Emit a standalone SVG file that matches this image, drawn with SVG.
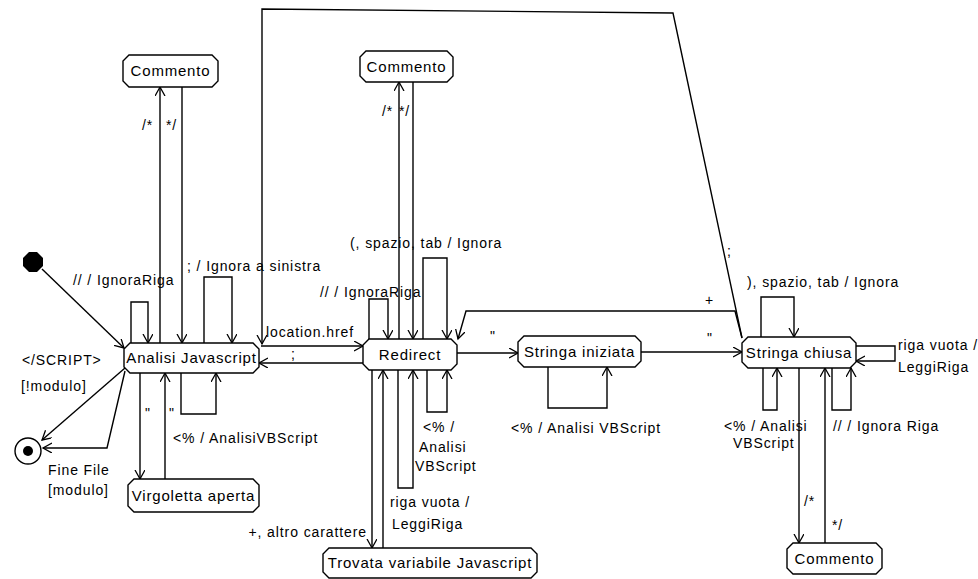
<svg xmlns="http://www.w3.org/2000/svg" width="978" height="579" viewBox="0 0 978 579">
<defs>
<marker id="arr" markerUnits="userSpaceOnUse" markerWidth="12" markerHeight="12" refX="9" refY="5" orient="auto">
<path d="M0,0 L9,5 L0,10" fill="none" stroke="#000" stroke-width="1.3"/>
</marker>
</defs>
<style>
.node{fill:#fff;stroke:#000;stroke-width:1.4}
.nt{font-family:"Liberation Sans",Arial,sans-serif;font-size:15px;letter-spacing:0.8px;text-anchor:middle;fill:#000}
.lb{font-family:"Liberation Sans",Arial,sans-serif;font-size:14px;letter-spacing:0.9px;fill:#000}
.c{fill:none;stroke:#000;stroke-width:1.4;marker-end:url(#arr)}
</style>
<rect width="978" height="579" fill="#fff"/>

<g id="labels">
<text class="lb" x="73" y="285">// / IgnoraRiga</text>
<text class="lb" x="187" y="271">; / Ignora a sinistra</text>
<text class="lb" x="142" y="130">/*</text>
<text class="lb" x="166" y="130">*/</text>
<text class="lb" x="266" y="337">location.href</text>
<text class="lb" x="291" y="359">;</text>
<text class="lb" x="320" y="297">// / IgnoraRiga</text>
<text class="lb" x="350" y="248">(, spazio, tab / Ignora</text>
<text class="lb" x="382" y="116">/*</text>
<text class="lb" x="399" y="116">*/</text>
<text class="lb" x="705" y="305">+</text>
<text class="lb" x="727" y="256">;</text>
<text class="lb" x="490" y="341">"</text>
<text class="lb" x="707" y="343">"</text>
<text class="lb" x="145" y="418">"</text>
<text class="lb" x="169" y="418">"</text>
<text class="lb" x="173" y="443">&lt;% / AnalisiVBScript</text>
<text class="lb" x="511" y="433">&lt;% / Analisi VBScript</text>
<text class="lb" x="423" y="432">&lt;% /</text>
<text class="lb" x="419" y="452">Analisi</text>
<text class="lb" x="415" y="471">VBScript</text>
<text class="lb" x="390" y="507">riga vuota /</text>
<text class="lb" x="392" y="529">LeggiRiga</text>
<text class="lb" x="367" y="537" text-anchor="end">+, altro carattere</text>
<text class="lb" x="22" y="365">&lt;/SCRIPT&gt;</text>
<text class="lb" x="21" y="391">[!modulo]</text>
<text class="lb" x="48" y="475">Fine File</text>
<text class="lb" x="48" y="495">[modulo]</text>
<text class="lb" x="747" y="287">), spazio, tab / Ignora</text>
<text class="lb" x="898" y="350">riga vuota /</text>
<text class="lb" x="898" y="372">LeggiRiga</text>
<text class="lb" x="724" y="431">&lt;% / Analisi</text>
<text class="lb" x="733" y="448">VBScript</text>
<text class="lb" x="833" y="431">// / Ignora Riga</text>
<text class="lb" x="804" y="506">/*</text>
<text class="lb" x="832" y="530">*/</text>
</g>

<g id="connectors">
<path class="c" d="M42,269 L124,348"/>
<path class="c" d="M131,343 V302 H148 V343"/>
<path class="c" d="M160,343 V87"/>
<path class="c" d="M182,87 V343"/>
<path class="c" d="M204,343 V277 H232 V343"/>
<path class="c" d="M742,338 L673,13 L262,9 V344"/>
<path class="c" d="M261,346 H363"/>
<path class="c" d="M363,363 H259"/>
<path class="c" d="M369,339 V299 H388 V339"/>
<path class="c" d="M399,339 V82"/>
<path class="c" d="M413,82 V339"/>
<path class="c" d="M423,339 V258 H447 V339"/>
<path class="c" d="M742,338 L735,311 H466 L458,339"/>
<path class="c" d="M457,353 H518"/>
<path class="c" d="M641,352 H742"/>
<path class="c" d="M548,367 V408 H607 V367"/>
<path class="c" d="M372,370 V548"/>
<path class="c" d="M383,548 V370"/>
<path class="c" d="M398,370 V488 H413 V370"/>
<path class="c" d="M427,370 V412 H447 V370"/>
<path class="c" d="M140,373 V479"/>
<path class="c" d="M165,479 V373"/>
<path class="c" d="M181,373 V414 H216 V373"/>
<path class="c" d="M125,368 L42,440"/>
<path class="c" d="M125,371 L107,448 H43"/>
<path class="c" d="M761,337 V297 H794 V337"/>
<path class="c" d="M856,346 H895 V361 H856"/>
<path class="c" d="M763,368 V410 H777 V368"/>
<path class="c" d="M799,368 V543"/>
<path class="c" d="M825,543 V368"/>
<path class="c" d="M832,368 V410 H851 V368"/>
</g>

<g id="start">
<polygon points="29,252 37,252 43,258 43,266 37,272 29,272 23,266 23,258" fill="#000"/>
</g>
<g id="end">
<circle cx="28" cy="451" r="13" fill="#fff" stroke="#000" stroke-width="1.4"/>
<circle cx="28" cy="451" r="5" fill="#000"/>
</g>

<g id="analisi">
<path class="node" d="M130,343 H253 L259,349 V367 L253,373 H130 L124,367 V349 Z"/>
<text class="nt" x="191.5" y="363">Analisi Javascript</text>
</g>
<g id="commento1">
<path class="node" d="M129,55 H212 L218,61 V81 L212,87 H129 L123,81 V61 Z"/>
<text class="nt" x="170.5" y="76">Commento</text>
</g>
<g id="commento2">
<path class="node" d="M366,51 H447 L453,57 V76 L447,82 H366 L360,76 V57 Z"/>
<text class="nt" x="406.5" y="72">Commento</text>
</g>
<g id="redirect">
<path class="node" d="M369,339 H451 L457,345 V364 L451,370 H369 L363,364 V345 Z"/>
<text class="nt" x="410" y="360">Redirect</text>
</g>
<g id="stringa_iniziata">
<path class="node" d="M524,336 H635 L641,342 V361 L635,367 H524 L518,361 V342 Z"/>
<text class="nt" x="579.5" y="357">Stringa iniziata</text>
</g>
<g id="stringa_chiusa">
<path class="node" d="M748,337 H850 L856,343 V362 L850,368 H748 L742,362 V343 Z"/>
<text class="nt" x="799" y="358">Stringa chiusa</text>
</g>
<g id="commento3">
<path class="node" d="M793,543 H876 L882,549 V568 L876,574 H793 L787,568 V549 Z"/>
<text class="nt" x="834.5" y="564">Commento</text>
</g>
<g id="virgoletta">
<path class="node" d="M134,479 H253 L259,485 V506 L253,512 H134 L128,506 V485 Z"/>
<text class="nt" x="193.5" y="501">Virgoletta aperta</text>
</g>
<g id="trovata">
<path class="node" d="M329,548 H531 L537,554 V572 L531,578 H329 L323,572 V554 Z"/>
<text class="nt" x="430" y="568">Trovata variabile Javascript</text>
</g>
</svg>
